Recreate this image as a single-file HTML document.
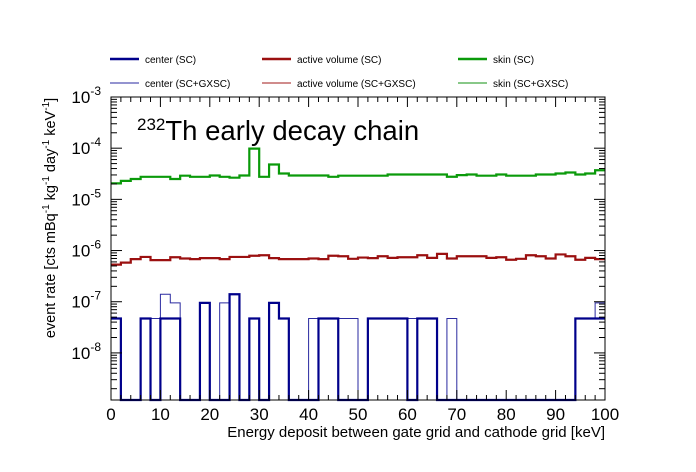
<!DOCTYPE html>
<html><head><meta charset="utf-8"><style>
body{margin:0;background:#fff;}
svg{font-family:"Liberation Sans",Arial,sans-serif;display:block}
</style></head><body>
<svg id="chart" width="696" height="472">
<g id="legend"></g>
<text x="137" y="140" font-size="27.5"><tspan font-size="17" dy="-10">232</tspan><tspan dy="10">Th early decay chain</tspan></text>
<g id="series"></g>
<g id="axes"></g>
<text x="605" y="437" font-size="15" text-anchor="end">Energy deposit between gate grid and cathode grid [keV]</text>
<text transform="translate(55,218) rotate(-90)" font-size="14.5" text-anchor="middle">event rate [cts mBq<tspan font-size="10" dy="-6">-1</tspan><tspan dy="6"> kg</tspan><tspan font-size="10" dy="-6">-1</tspan><tspan dy="6"> day</tspan><tspan font-size="10" dy="-6">-1</tspan><tspan dy="6"> keV</tspan><tspan font-size="10" dy="-6">-1</tspan><tspan dy="6">]</tspan></text>
</svg>
<script>
const binEdgesKeV = [0, 100];
const nBins = 50;
const centerSC = [4.7e-8,0,0,4.7e-8,0,4.7e-8,4.7e-8,0,0,9.5e-8,0,0,1.4e-7,0,4.7e-8,0,9.5e-8,4.7e-8,0,0,0,4.7e-8,4.7e-8,0,0,0,4.7e-8,4.7e-8,4.7e-8,4.7e-8,0,4.7e-8,4.7e-8,0,0,0,0,0,0,0,0,0,0,0,0,0,0,4.7e-8,4.7e-8,4.7e-8];
const centerGX = [4.7e-8,0,0,4.7e-8,4.7e-8,1.4e-7,9.5e-8,0,0,9.5e-8,0,9.5e-8,1.4e-7,0,4.7e-8,0,9.5e-8,4.7e-8,0,0,4.7e-8,4.7e-8,4.7e-8,4.7e-8,4.7e-8,0,4.7e-8,4.7e-8,4.7e-8,4.7e-8,4.7e-8,4.7e-8,4.7e-8,0,4.7e-8,0,0,0,0,0,0,0,0,0,0,0,0,4.7e-8,4.7e-8,9.5e-8];
const activeSC = [5.3e-7,5.8e-7,6.8e-7,7.5e-7,6.5e-7,6.5e-7,7.4e-7,7.0e-7,6.8e-7,7.1e-7,7.1e-7,6.8e-7,7.5e-7,7.5e-7,7.9e-7,8.1e-7,7.1e-7,6.8e-7,6.8e-7,6.8e-7,7.0e-7,6.8e-7,7.9e-7,7.75e-7,6.9e-7,7.3e-7,7.1e-7,7.75e-7,7.2e-7,7.4e-7,7.4e-7,8.1e-7,7.2e-7,8.6e-7,7.0e-7,7.75e-7,7.75e-7,7.75e-7,7.2e-7,7.4e-7,6.6e-7,6.9e-7,8.1e-7,7.75e-7,7.0e-7,8.4e-7,7.75e-7,6.6e-7,7.2e-7,6.8e-7];
const activeGX = activeSC.slice();
const skinSC = [2.05e-5,2.3e-5,2.5e-5,2.76e-5,2.76e-5,2.76e-5,2.5e-5,2.9e-5,2.76e-5,2.76e-5,2.93e-5,2.76e-5,2.65e-5,2.93e-5,9.8e-5,2.76e-5,4.8e-5,3.2e-5,2.93e-5,2.93e-5,2.93e-5,2.93e-5,2.76e-5,2.9e-5,2.9e-5,2.9e-5,2.9e-5,2.9e-5,3.06e-5,3.06e-5,3.06e-5,3.06e-5,3.06e-5,3.06e-5,2.77e-5,2.98e-5,3.06e-5,2.9e-5,2.9e-5,3.06e-5,2.9e-5,2.9e-5,2.9e-5,3.06e-5,3.06e-5,3.2e-5,3.35e-5,3.06e-5,3.2e-5,3.7e-5];
const skinGX = skinSC.slice();
const xTicks = [0,10,20,30,40,50,60,70,80,90,100];
const yTickExp = [-3,-4,-5,-6,-7,-8];

const L=111,R=605,T=97,B=400,logTop=-3,logBot=-8.92;
const NS='http://www.w3.org/2000/svg';
const xs=v=>L+(v-binEdgesKeV[0])/(binEdgesKeV[1]-binEdgesKeV[0])*(R-L);
const ys=v=>{if(v<=0)return B;let y=T+(logTop-Math.log10(v))/(logTop-logBot)*(B-T);return Math.min(B,Math.max(T,y));};
function mk(tag,attrs,parent){const e=document.createElementNS(NS,tag);for(const k in attrs)e.setAttribute(k,attrs[k]);parent.appendChild(e);return e;}
const S=document.getElementById('series'),A=document.getElementById('axes'),LG=document.getElementById('legend');
const bw=(binEdgesKeV[1]-binEdgesKeV[0])/nBins;
function hist(vals,color,w,name){
  let d='M'+xs(0)+','+ys(vals[0]);
  for(let i=0;i<vals.length;i++){
    d+=' L'+xs(i*bw)+','+ys(vals[i])+' L'+xs((i+1)*bw)+','+ys(vals[i]);
  }
  const p=mk('path',{d:d,fill:'none',stroke:color,'stroke-width':w},S);
  
  
}
hist(centerGX,'#2a2aa0',1,'center-sc-gxsc-line');
hist(centerSC,'#00008b',2.2,'center-sc-line');
hist(activeGX,'#a01818',1,'active-volume-sc-gxsc-line');
hist(activeSC,'#9b1010',2.2,'active-volume-sc-line');
hist(skinGX,'#109010',1,'skin-sc-gxsc-line');
hist(skinSC,'#0a9a0a',2.2,'skin-sc-line');

const fr=mk('rect',{x:L,y:T,width:R-L,height:B-T,fill:'none',stroke:'#000','stroke-width':1},A);


for(let k=0;k<=50;k++){
  const v=k*2,x=xs(v),maj=v%10===0,len=maj?10:5;
  mk('line',{x1:x,x2:x,y1:B,y2:B-len,stroke:'#000','stroke-width':1},A);
  mk('line',{x1:x,x2:x,y1:T,y2:T+len,stroke:'#000','stroke-width':1},A);
}
xTicks.forEach(v=>{
  const t=mk('text',{x:xs(v),y:420,'font-size':17,'text-anchor':'middle'},A);
  t.textContent=v;
  
  
});
for(let e=-9;e<=-3;e++){
  for(let m=1;m<10;m++){
    const v=m*Math.pow(10,e);const lv=Math.log10(v);
    if(lv>logTop+1e-9||lv<logBot)continue;
    const y=ys(v),len=m===1?11:6;
    mk('line',{x1:L,x2:L+len,y1:y,y2:y,stroke:'#000','stroke-width':1},A);
    mk('line',{x1:R,x2:R-len,y1:y,y2:y,stroke:'#000','stroke-width':1},A);
  }
}
yTickExp.forEach(e=>{
  const y=ys(Math.pow(10,e));
  const t=mk('text',{x:101,y:y+6,'font-size':17,'text-anchor':'end'},A);
  t.innerHTML='10<tspan font-size="12" dy="-8">'+e+'</tspan>';
  
  
});
const legendItems=[
 ['center (SC)','#00008b',2.5,110,59],['active volume (SC)','#9b1010',2.5,262,59],['skin (SC)','#0a9a0a',2.5,458,59],
 ['center (SC+GXSC)','#2a2aa0',1,110,83],['active volume (SC+GXSC)','#a01818',1,262,83],['skin (SC+GXSC)','#109010',1,458,83]];
legendItems.forEach(it=>{
  const g=mk('g',{},LG);
  
  
  mk('line',{x1:it[3],x2:it[3]+29,y1:it[4],y2:it[4],stroke:it[1],'stroke-width':it[2]},g);
  const t=mk('text',{x:it[3]+35,y:it[4]+4,'font-size':10},g);
  t.textContent=it[0];
});
</script>
</body></html>
